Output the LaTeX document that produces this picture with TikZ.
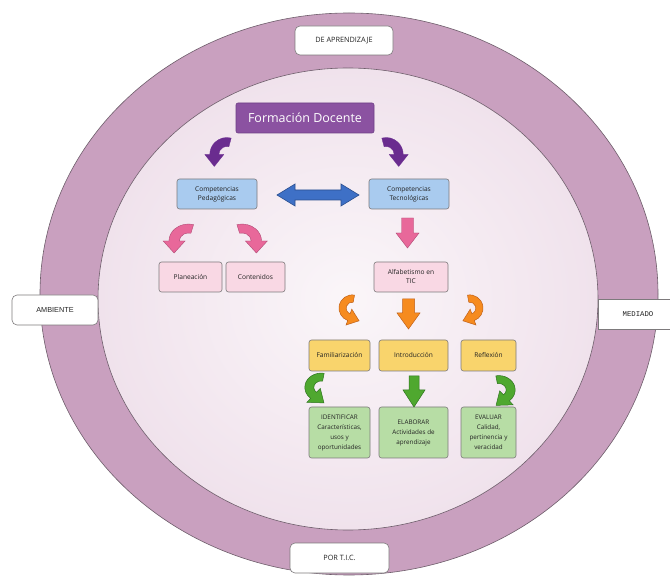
\documentclass[tikz,border=0pt]{standalone}
\usepackage{fontspec}
\setmainfont{Open Sans}
\newfontfamily\arialf{Liberation Sans}
\newfontfamily\monof{Liberation Mono}
\usetikzlibrary{calc}
\definecolor{ringc}{HTML}{C9A0BF}
\definecolor{innerc}{HTML}{F6EDF3}
\definecolor{innerd}{HTML}{F0E2EC}
\definecolor{edgec}{HTML}{6E5E6B}
\definecolor{fdc}{HTML}{8B52A1}
\definecolor{fdedge}{HTML}{6E3F85}
\definecolor{purparr}{HTML}{6A2C8F}
\definecolor{bluebx}{HTML}{A9CBEF}
\definecolor{bluearr}{HTML}{3E70C6}
\definecolor{bluearredge}{HTML}{2B4F8F}
\definecolor{pinkarr}{HTML}{E8689A}
\definecolor{pinkarredge}{HTML}{B04A74}
\definecolor{pinkbx}{HTML}{F9D8E4}
\definecolor{orangearr}{HTML}{F68B1F}
\definecolor{orangeedge}{HTML}{C0611A}
\definecolor{yellowbx}{HTML}{F9D46C}
\definecolor{greenarr}{HTML}{4FA82F}
\definecolor{greenedge}{HTML}{2F7420}
\definecolor{greenbx}{HTML}{B7DDA5}
\definecolor{boxedge}{HTML}{7D7A7C}
\definecolor{txt}{HTML}{222222}
% curved block arrow: #1 style, #2 start angle, #3 end angle, #4 outer R, #5 inner r, #6 head overhang, #7 head length
\newcommand{\CurvArrow}[7]{%
  \path[#1] (#2:#4) arc[start angle=#2, end angle=#3, radius=#4]
    -- (#3:{#4+#6}) -- ($(#3:{(#4+#5)/2})+({#3+90}:#7)$)
    -- (#3:{#5-#6}) -- (#3:#5) arc[start angle=#3, end angle=#2, radius=#5] -- cycle;}
% straight down block arrow: #1 style, #2 cx, #3 top, #4 bottom, #5 shaft half width, #6 head half width, #7 head length
\newcommand{\DownBlockArrow}[7]{%
  \path[#1] ({#2-#5},#3) -- ({#2+#5},#3) -- ({#2+#5},{#4-#7}) -- ({#2+#6},{#4-#7})
    -- (#2,#4) -- ({#2-#6},{#4-#7}) -- ({#2-#5},{#4-#7}) -- cycle;}
\tikzset{
  box/.style={draw=boxedge, line width=0.6pt, rounded corners=2.5pt, align=center,
    inner sep=1pt, text=txt, font=\fontsize{6.6}{9}\selectfont},
  bluebox/.style={box, fill=bluebx, minimum width=80pt, minimum height=30pt},
  pinkbox/.style={box, fill=pinkbx, minimum height=30pt},
  ybox/.style={box, fill=yellowbx, minimum height=31pt},
  gbox/.style={box, fill=greenbx, minimum height=51pt, font=\fontsize{6.3}{10}\selectfont},
  lbl/.style={draw=boxedge, line width=0.6pt, fill=white, rounded corners=5pt,
    minimum height=29pt, inner sep=1pt, text=txt, font=\fontsize{7.3}{8}\selectfont},
  fdbox/.style={draw=fdedge, line width=0.6pt, fill=fdc, rounded corners=2pt, text=white,
    minimum width=138pt, minimum height=30pt, font=\fontsize{12.5}{14}\selectfont},
  purpa/.style={fill=purparr, draw=purparr, line width=0.3pt},
  pinka/.style={fill=pinkarr, draw=pinkarredge, line width=0.4pt},
  orangea/.style={fill=orangearr, draw=orangeedge, line width=0.5pt},
  greena/.style={fill=greenarr, draw=greenedge, line width=0.5pt},
  bluea/.style={fill=bluearr, draw=bluearredge, line width=0.6pt}
}
\begin{document}
\begin{tikzpicture}[x=1pt, y=-1pt]
\useasboundingbox (0,0) rectangle (670,577);
\fill[white] (0,0) rectangle (670,577);
% rings
\filldraw[fill=ringc, draw=edgec, line width=0.6pt] (349,294) ellipse [x radius=309, y radius=281];
\shade[inner color=white!50!innerc, outer color=innerd] (348,299) ellipse [x radius=250, y radius=231];
\draw[edgec, line width=0.6pt] (348,299) ellipse [x radius=250, y radius=231];
% ring labels
\node[lbl, minimum width=98pt] (da) at (344,40.5) {DE APRENDIZAJE};
\node[lbl, minimum width=99pt, minimum height=30pt] (pt) at (339.5,558) {POR T.I.C.};
\node[lbl, minimum width=86pt, minimum height=30pt, font=\arialf\fontsize{7.3}{8}\selectfont] (am) at (55,310) {AMBIENTE};
\node[lbl, minimum width=80pt, minimum height=30pt, rounded corners=0pt, font=\monof\fontsize{7.3}{8}\selectfont] (me) at (638,314) {MEDIADO};
% main nodes
\node[fdbox] (fd) at (305,118) {Formación Docente};
\node[bluebox] (cp) at (217,194) {Competencias\\Pedagógicas};
\node[bluebox] (ct) at (409,194) {Competencias\\Tecnológicas};
\node[pinkbox, minimum width=63pt] (pl) at (190.5,277) {Planeación};
\node[pinkbox, minimum width=59pt] (co) at (255.5,277) {Contenidos};
\node[pinkbox, minimum width=74pt] (al) at (411,277) {Alfabetismo en\\TIC};
\node[ybox, minimum width=61pt] (fa) at (339.5,355.5) {Familiarización};
\node[ybox, minimum width=69pt] (in) at (413.5,355.5) {Introducción};
\node[ybox, minimum width=55pt] (re) at (488.5,355.5) {Reflexión};
\node[gbox, minimum width=61pt] (id) at (339.5,432.5) {IDENTIFICAR\\Características,\\usos y\\oportunidades};
\node[gbox, minimum width=69pt] (el) at (413.5,432.5) {ELABORAR\\Actividades de\\aprendizaje};
\node[gbox, minimum width=55pt] (ev) at (488.5,432.5) {EVALUAR\\Calidad,\\pertinencia y\\veracidad};
% purple curved arrows
\begin{scope}[shift={(226.8,154.5)}, yscale=-1]
  \CurvArrow{purpa}{75}{180}{17}{8}{5}{12}
\end{scope}
\begin{scope}[shift={(386.2,154.5)}, yscale=-1, xscale=-1]
  \CurvArrow{purpa}{75}{180}{17}{8}{5}{12}
\end{scope}
% blue double arrow
\path[bluea] (277,195) -- (295,184) -- (295,190) -- (341,190) -- (341,184) -- (359,195)
  -- (341,206) -- (341,200) -- (295,200) -- (295,206) -- cycle;
% pink arrows
\begin{scope}[shift={(188.5,241)}, yscale=-1, xscale=1.15]
  \CurvArrow{pinka}{75}{180}{17}{8}{5}{12}
\end{scope}
\begin{scope}[shift={(242,241)}, yscale=-1, xscale=-1.15]
  \CurvArrow{pinka}{75}{180}{17}{8}{5}{12}
\end{scope}
\DownBlockArrow{pinka}{407.5}{218}{248}{6}{11.5}{15}
% orange arrows
\begin{scope}[shift={(352.2,308.1)}, yscale=-1.2, xscale=1.2]
  \CurvArrow{orangea}{80}{250}{11}{5}{4}{9}
\end{scope}
\begin{scope}[shift={(469.8,308.1)}, yscale=-1.2, xscale=-1.2]
  \CurvArrow{orangea}{80}{250}{11}{5}{4}{9}
\end{scope}
\DownBlockArrow{orangea}{408.5}{299}{329}{6}{11.5}{16}
% green arrows
\begin{scope}[shift={(321.3,387.4)}, yscale=-1.3, xscale=1.5]
  \CurvArrow{greena}{80}{230}{11}{5}{4}{9}
\end{scope}
\begin{scope}[shift={(498.7,389.9)}, yscale=-1.3, xscale=-1.5]
  \CurvArrow{greena}{80}{230}{11}{5}{4}{9}
\end{scope}
\DownBlockArrow{greena}{414}{376}{407}{5}{11}{17}
\end{tikzpicture}
\end{document}
